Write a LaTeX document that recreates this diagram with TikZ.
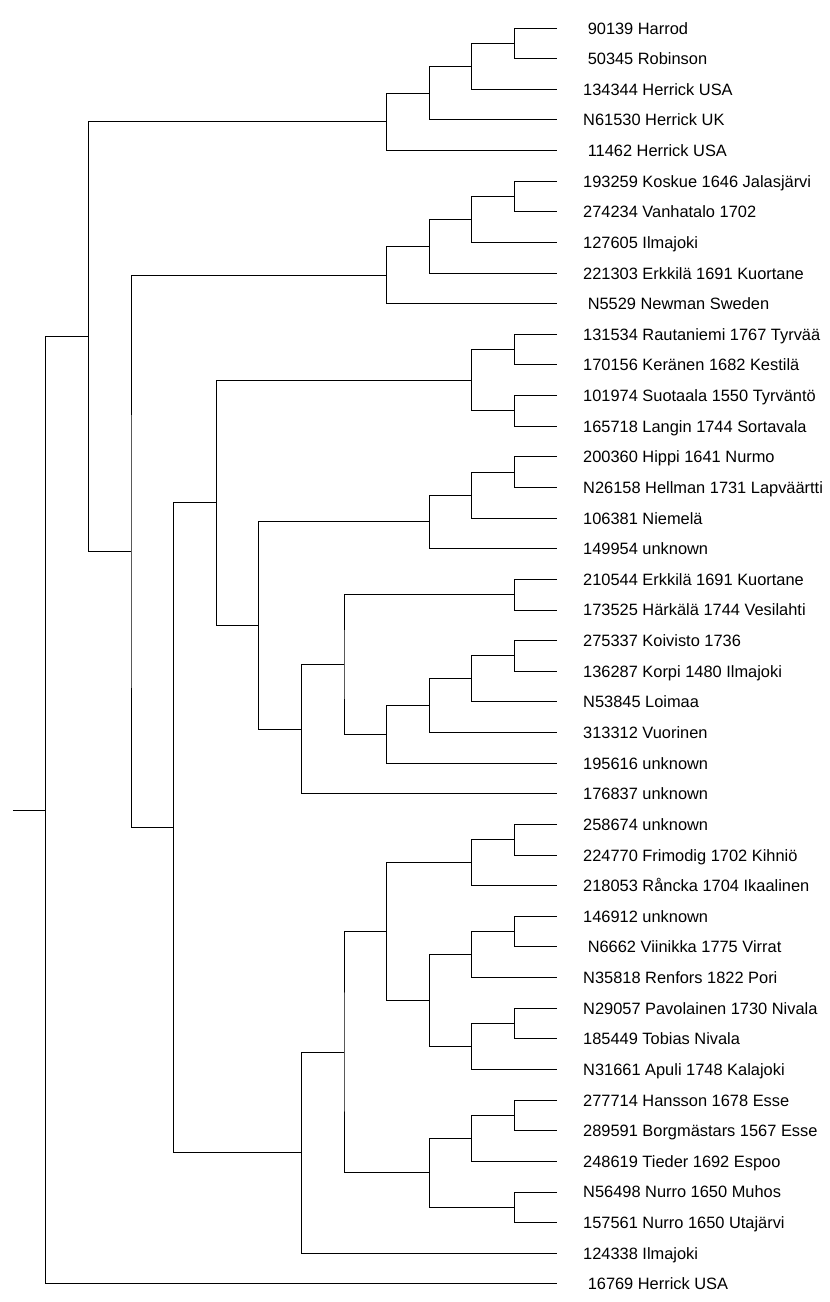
\documentclass[tikz,border=0pt]{standalone}
\usepackage{fontspec}
\setmainfont{Liberation Sans}
\usetikzlibrary{calc}
\tikzset{branch/.style={black,line width=.9pt},
  leaf/.style={anchor=base west,inner sep=0pt,xshift=26pt,yshift=-6pt,
    font=\fontsize{16.4}{20}\selectfont}}
\newcommand*{\merge}[4]{%
  \coordinate (#1) at ($(#3)!.5!(#4)$);
  \coordinate (#1) at (#2,0 |- #1);
  \draw[branch] (#3) -| (#1) |- (#4);}

\begin{document}
\begin{tikzpicture}[x=42.6pt,y=-30.63pt]
\useasboundingbox (-1.0751,-0.9141) rectangle (18.408,41.593);
\foreach \lab [count=\i from 0] in {\ 90139 Harrod,\ 50345 Robinson,
  134344 Herrick USA,N61530 Herrick UK,\ 11462 Herrick USA,
  193259 Koskue 1646 Jalasjärvi,274234 Vanhatalo 1702,127605 Ilmajoki,
  221303 Erkkilä 1691 Kuortane,\ N5529 Newman Sweden,
  131534 Rautaniemi 1767 Tyrvää,170156 Keränen 1682 Kestilä,
  101974 Suotaala 1550 Tyrväntö,165718 Langin 1744 Sortavala,
  200360 Hippi 1641 Nurmo,N26158 Hellman 1731 Lapväärtti,106381 Niemelä,
  149954 unknown,210544 Erkkilä 1691 Kuortane,173525 Härkälä 1744 Vesilahti,
  275337 Koivisto 1736,136287 Korpi 1480 Ilmajoki,N53845 Loimaa,
  313312 Vuorinen,195616 unknown,176837 unknown,258674 unknown,
  224770 Frimodig 1702 Kihniö,218053 Råncka 1704 Ikaalinen,146912 unknown,
  \ N6662 Viinikka 1775 Virrat,N35818 Renfors 1822 Pori,
  N29057 Pavolainen 1730 Nivala,185449 Tobias Nivala,N31661 Apuli 1748 Kalajoki,
  277714 Hansson 1678 Esse,289591 Borgmästars 1567 Esse,248619 Tieder 1692 Espoo,
  N56498 Nurro 1650 Muhos,157561 Nurro 1650 Utajärvi,124338 Ilmajoki,
  \ 16769 Herrick USA}
{
  \coordinate (l\i) at (12,\i);
  \node[leaf] (t\i) at (l\i) {\lab};
}
\merge{a1}{11}{l0}{l1}
\merge{a2}{10}{a1}{l2}
\merge{a3}{9}{a2}{l3}
\merge{a4}{8}{a3}{l4}
\merge{b1}{11}{l5}{l6}
\merge{b2}{10}{b1}{l7}
\merge{b3}{9}{b2}{l8}
\merge{b4}{8}{b3}{l9}
\merge{c1}{11}{l10}{l11}
\merge{c2}{11}{l12}{l13}
\merge{c3}{10}{c1}{c2}
\merge{d1}{11}{l14}{l15}
\merge{d2}{10}{d1}{l16}
\merge{d3}{9}{d2}{l17}
\merge{e1}{11}{l18}{l19}
\merge{e2}{11}{l20}{l21}
\merge{e3}{10}{e2}{l22}
\merge{e4}{9}{e3}{l23}
\merge{e5}{8}{e4}{l24}
\merge{e6}{7}{e1}{e5}
\merge{e7}{6}{e6}{l25}
\merge{d4}{5}{d3}{e7}
\merge{c4}{4}{c3}{d4}
\merge{f1}{11}{l26}{l27}
\merge{f2}{10}{f1}{l28}
\merge{f3}{11}{l29}{l30}
\merge{f4}{10}{f3}{l31}
\merge{f5}{11}{l32}{l33}
\merge{f6}{10}{f5}{l34}
\merge{f7}{9}{f4}{f6}
\merge{f8}{8}{f2}{f7}
\merge{g1}{11}{l35}{l36}
\merge{g2}{10}{g1}{l37}
\merge{g3}{11}{l38}{l39}
\merge{g4}{9}{g2}{g3}
\merge{g5}{7}{f8}{g4}
\merge{g6}{6}{g5}{l40}
\merge{h1}{3}{c4}{g6}
\merge{h2}{2}{b4}{h1}
\merge{h3}{1}{a4}{h2}
\merge{root}{0}{h3}{l41}
\coordinate (stub) at (-0.77,0 |- root);
\draw[branch] (stub) -- (root);
\end{tikzpicture}
\end{document}
